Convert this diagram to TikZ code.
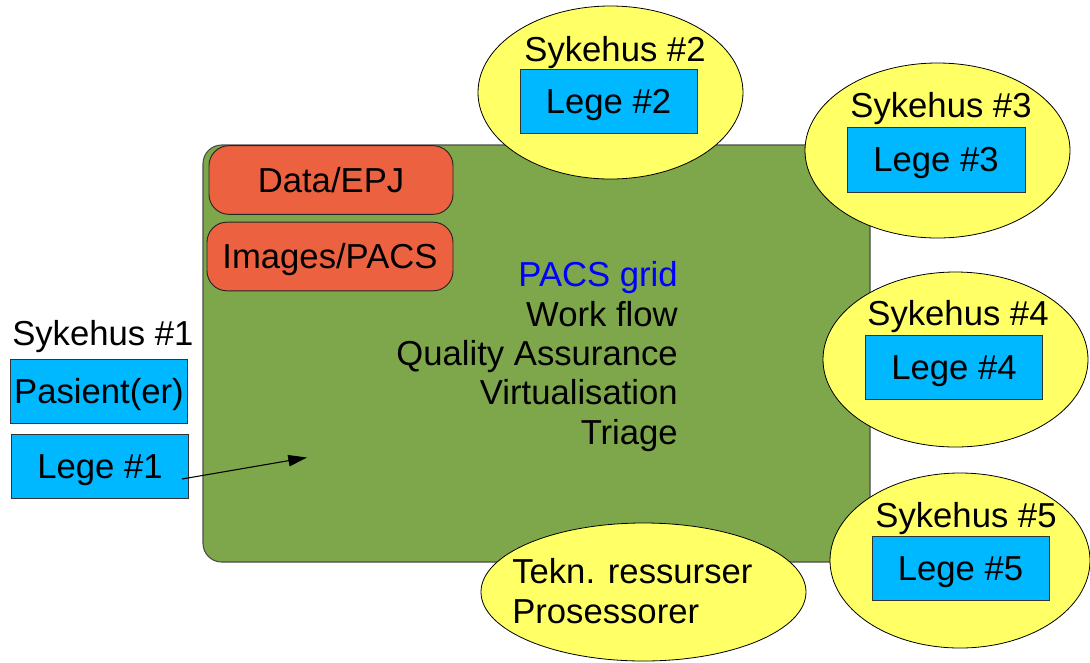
\documentclass[tikz,border=0pt]{standalone}
\usepackage{fontspec}
\setmainfont{Liberation Sans}
\usetikzlibrary{shapes.geometric,arrows.meta}
\definecolor{gridgreen}{RGB}{126,166,74}
\definecolor{datared}{RGB}{236,97,64}
\definecolor{legeblue}{RGB}{0,184,255}
\definecolor{hospyellow}{RGB}{255,255,102}
\definecolor{gridblue}{RGB}{0,0,255}
\tikzset{
  txt/.style={font=\fontsize{26pt}{30pt}\selectfont, inner sep=0pt},
  legebox/.style={draw=black!80, line width=0.7pt, fill=legeblue, inner sep=0pt,
    minimum width=132.75pt, minimum height=48pt, text height=18.7pt, text depth=0pt,
    font=\fontsize{26pt}{30pt}\selectfont},
  databox/.style={draw=black!85, line width=0.7pt, fill=datared, rounded corners=15pt, inner sep=0pt,
    minimum height=51.5pt, text height=18.7pt, text depth=0pt,
    font=\fontsize{26pt}{30pt}\selectfont},
  hosp/.style={ellipse, draw=black, line width=0.6pt, fill=hospyellow, inner sep=0pt},
  gridbox/.style={draw=black!70, line width=0.8pt, fill=gridgreen, rounded corners=14pt},
}
\begin{document}
\begin{tikzpicture}[x=0.75pt,y=-0.75pt]
\useasboundingbox (0,0) rectangle (1090,662);
% main grid area
\node[gridbox, inner sep=0pt, minimum width=500.25pt, minimum height=312.75pt] (grid) at (536.5,353.5) {};
% hospitals (ellipses)
\node[hosp, minimum width=198.75pt, minimum height=129.75pt] (s2) at (610.5,92.5) {};
\node[hosp, minimum width=198.75pt, minimum height=131.25pt] (s3) at (937.5,150.5) {};
\node[hosp, minimum width=198.75pt, minimum height=131.25pt] (s4) at (955.5,359.5) {};
\node[hosp, minimum width=195pt, minimum height=131.25pt] (s5) at (960,560.5) {};
\node[hosp, minimum width=243.75pt, minimum height=103.5pt] (tek) at (643.5,592) {};
% data boxes
\node[databox, minimum width=183pt] (epj) at (331,180) {Data/EPJ};
\node[databox, minimum width=184.5pt] (pacs) at (330,256.5) {Images/PACS};
% hospital labels
\node[txt, anchor=base west] (s1lbl) at (12,345) {Sykehus \#1};
\node[txt, anchor=base] (s2lbl) at (615,61) {Sykehus \#2};
\node[txt, anchor=base] (s3lbl) at (941,117) {Sykehus \#3};
\node[txt, anchor=base] (s4lbl) at (958,325) {Sykehus \#4};
\node[txt, anchor=base] (s5lbl) at (966,527) {Sykehus \#5};
% doctor / patient boxes
\node[legebox] (pas) at (99,391.5) {Pasient(er)};
\node[legebox] (l1) at (100,466.5) {Lege \#1};
\node[legebox] (l2) at (608.5,101.5) {Lege \#2};
\node[legebox, minimum width=133.5pt, minimum height=48.75pt] (l3) at (936,159.5) {Lege \#3};
\node[legebox] (l4) at (954,367) {Lege \#4};
\node[legebox] (l5) at (960.5,568.5) {Lege \#5};
% grid text
\node[txt, anchor=base east, text=gridblue] (g1) at (678,286) {PACS grid};
\node[txt, anchor=base east] (g2) at (678,326) {Work flow};
\node[txt, anchor=base east] (g3) at (678,365) {Quality Assurance};
\node[txt, anchor=base east] (g4) at (678,404) {Virtualisation};
\node[txt, anchor=base east] (g5) at (678,444) {Triage};
% technical resources
\node[txt, anchor=base west] (t1) at (512,583) {Tekn. ressurser};
\node[txt, anchor=base west] (t2) at (512,623) {Prosessorer};
% arrow
\coordinate (astart) at (182,479);
\coordinate (aend) at (307,457.5);
\draw[line width=0.8pt, -{Triangle[length=14pt,width=8.5pt]}] (astart) -- (aend);
\end{tikzpicture}
\end{document}
